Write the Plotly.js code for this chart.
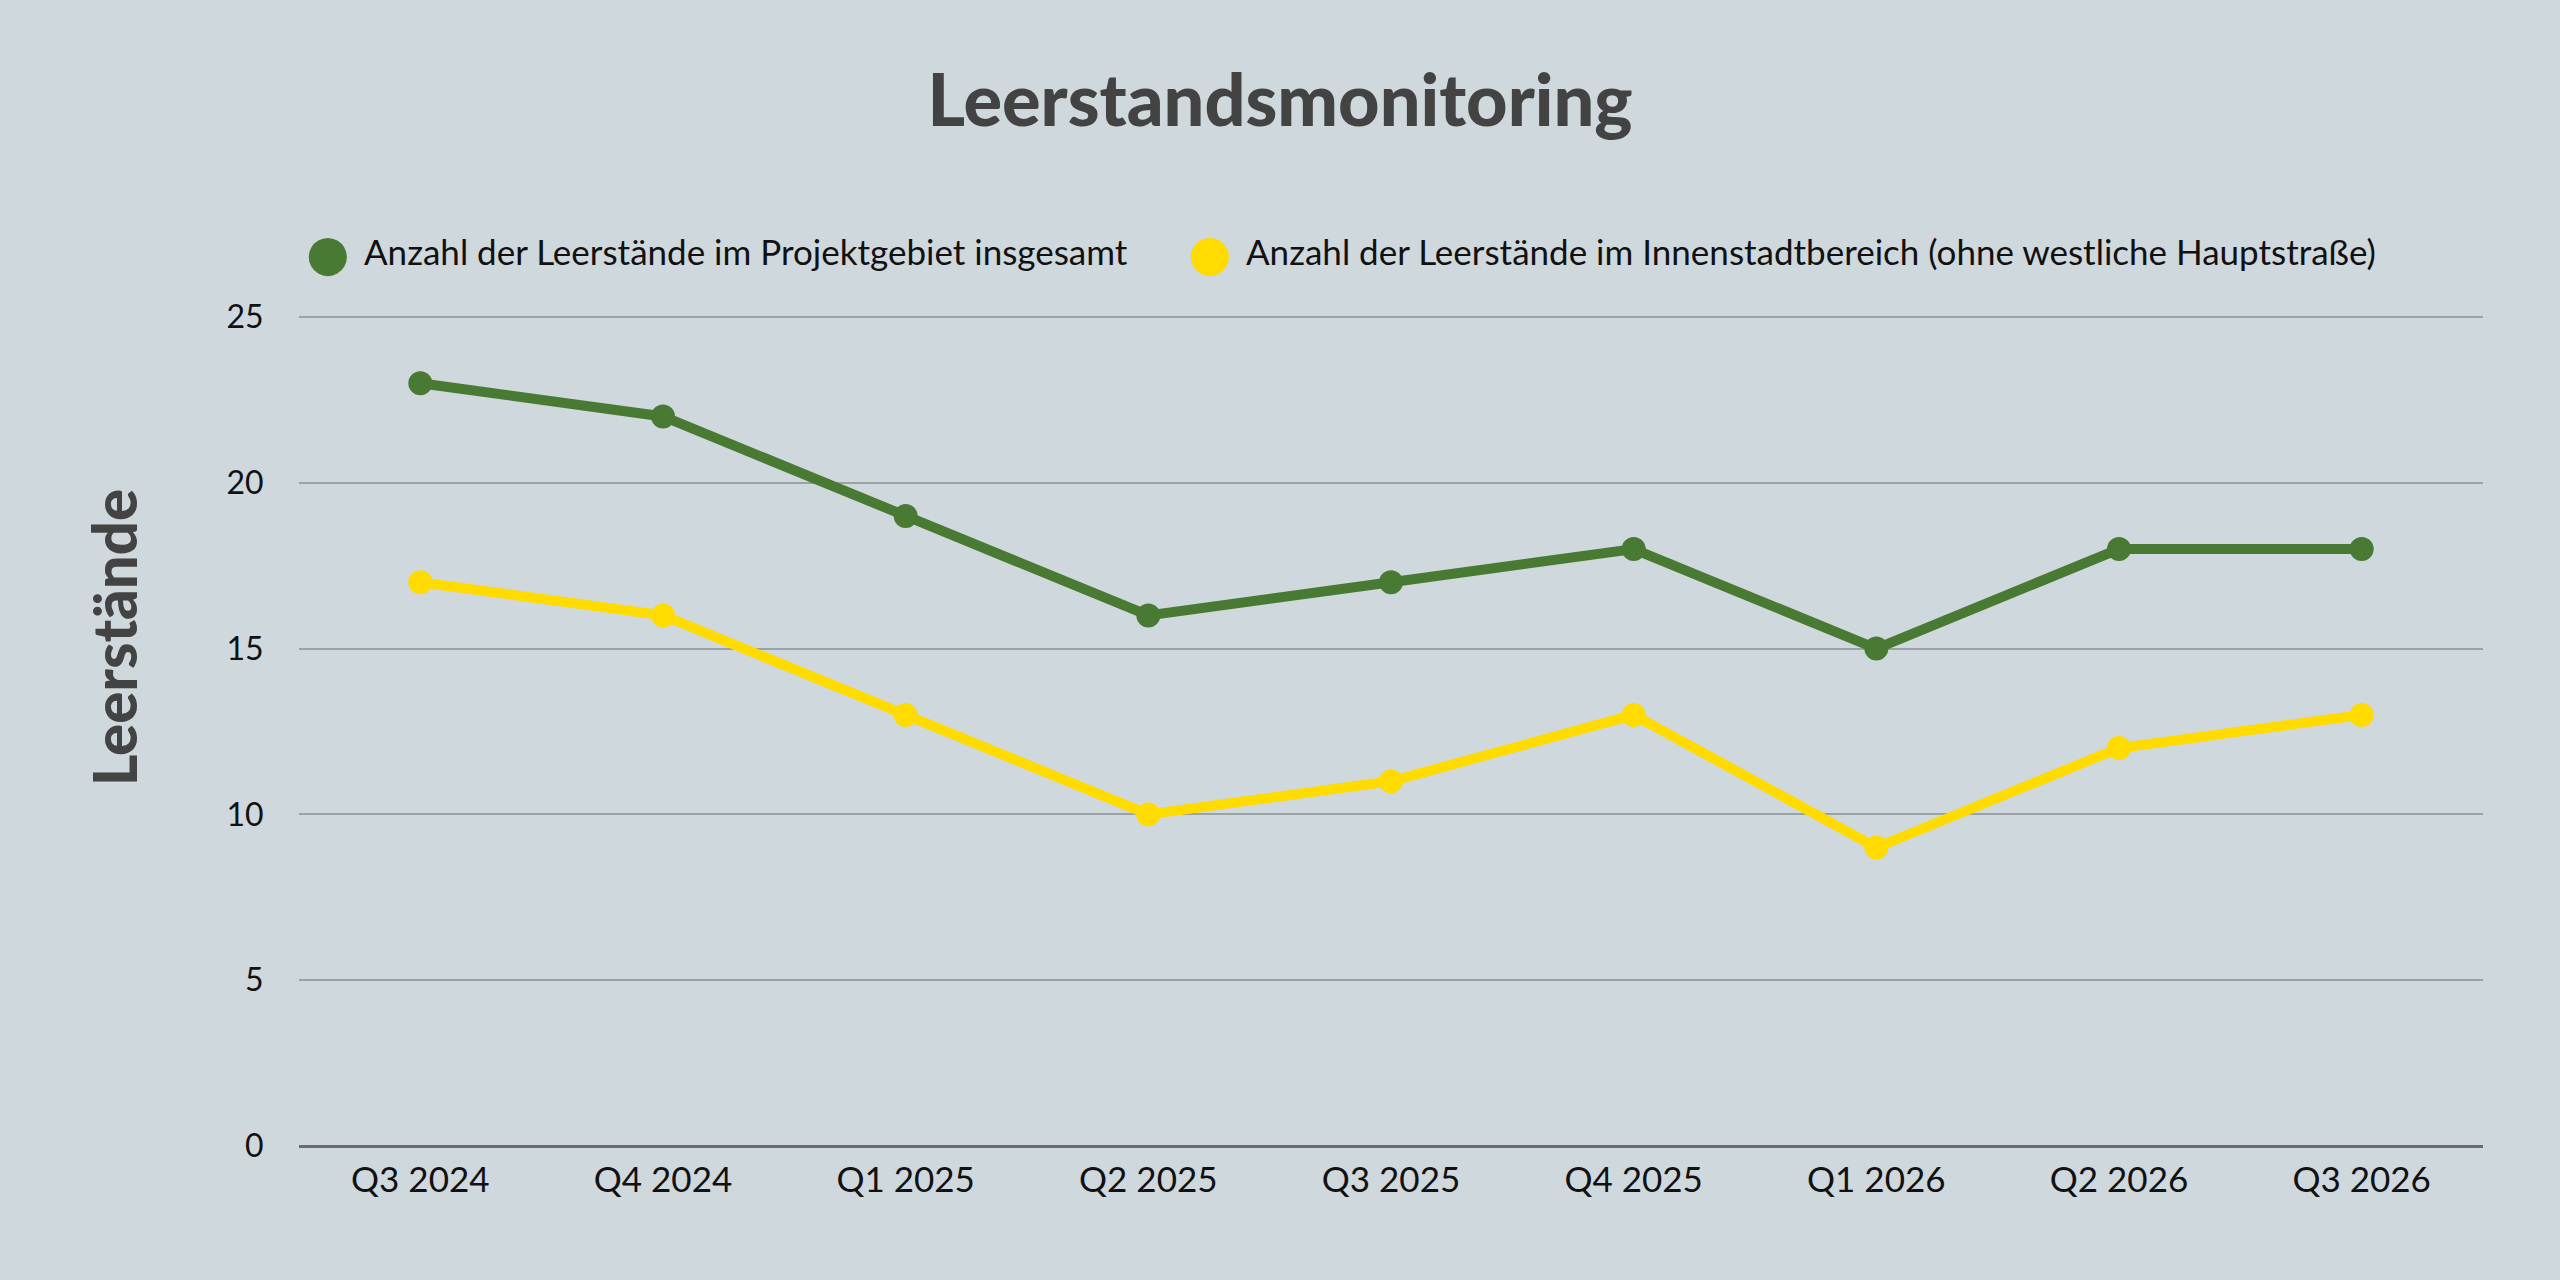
<!DOCTYPE html>
<html>
<head>
<meta charset="utf-8">
<script src="https://cdn.plot.ly/plotly-3.0.1.min.js"></script>
<style>html,body{margin:0;padding:0;background:#cfd8dd;}#chart{width:2560px;height:1280px;}</style>
</head>
<body>
<div id="chart"></div>
<script>
const categories = ["Q3 2024","Q4 2024","Q1 2025","Q2 2025","Q3 2025","Q4 2025","Q1 2026","Q2 2026","Q3 2026"];
const totalValues = [23,22,19,16,17,18,15,18,18];
const innerValues = [17,16,13,10,11,13,9,12,13];
const seriesNames = ["Anzahl der Leerstände im Projektgebiet insgesamt","Anzahl der Leerstände im Innenstadtbereich (ohne westliche Hauptstraße)"];
const yTicks = [0,5,10,15,20,25];
const yTitle = "Leerstände";

const green = "#497a33";
const yellow = "#ffdb00";
const colors = [green, yellow];

const traces = [
  {x: categories, y: totalValues, type: "scatter", mode: "lines+markers", name: seriesNames[0], showlegend: false,
   line: {color: green, width: 10}, marker: {color: green, size: 24}},
  {x: categories, y: innerValues, type: "scatter", mode: "lines+markers", name: seriesNames[1], showlegend: false,
   line: {color: yellow, width: 10}, marker: {color: yellow, size: 24}}
];

// plot area in px
const L = 299, R = 2483, B = 1146, T = 307;
const W = R - L, H = B - T;
const px = v => (v - L) / W;
const py = v => (B - v) / H;

const legendCircleX = [328, 1210];
const legendTextX = [362, 1244];
const legendY = 251;
const annotations = [];
seriesNames.forEach((n, i) => {
  annotations.push({text: "●", xref: "paper", yref: "paper", x: px(legendCircleX[i]), xanchor: "center",
    y: py(legendY + 2), yanchor: "middle", showarrow: false, font: {size: 50, color: colors[i], family: "DejaVu Sans"}});
  annotations.push({text: n, xref: "paper", yref: "paper", x: px(legendTextX[i]), xanchor: "left",
    y: py(legendY), yanchor: "middle", showarrow: false, font: {size: 35, color: "#111111"}});
});
annotations.push({text: yTitle, xref: "paper", yref: "paper", x: px(114), xanchor: "center",
  y: py(638), yanchor: "middle", textangle: -90, showarrow: false,
  font: {size: 60, color: "#434343", weight: 900}});

const layout = {
  width: 2560, height: 1280,
  paper_bgcolor: "#cfd8dd", plot_bgcolor: "#cfd8dd",
  margin: {l: L, r: 2560 - R, t: T, b: 1280 - B},
  font: {family: "Lato, 'Open Sans', sans-serif", color: "#111111", size: 32},
  title: {text: "Leerstandsmonitoring", x: 0.5, xanchor: "center", y: 1 - 101/1280, yref: "container", yanchor: "middle",
          font: {family: "Lato, sans-serif", size: 72, color: "#434343", weight: 900}},
  showlegend: false,
  annotations: annotations,
  xaxis: {type: "category", range: [-0.5, 8.5], showgrid: false, zeroline: false, showline: false,
          ticks: "outside", ticklen: 3, tickcolor: "rgba(0,0,0,0)", tickfont: {size: 35, color: "#111111"}, fixedrange: true},
  yaxis: {range: [0, 25.3], tickvals: yTicks, showgrid: true, gridcolor: "#9ba2a6", gridwidth: 2,
          zeroline: true, zerolinecolor: "#6a6e71", zerolinewidth: 3, showline: false,
          ticks: "outside", ticklen: 28, tickcolor: "rgba(0,0,0,0)", tickfont: {size: 32, color: "#111111"},
          fixedrange: true}
};

Plotly.newPlot("chart", traces, layout, {displayModeBar: false, staticPlot: true});
</script>
</body>
</html>
